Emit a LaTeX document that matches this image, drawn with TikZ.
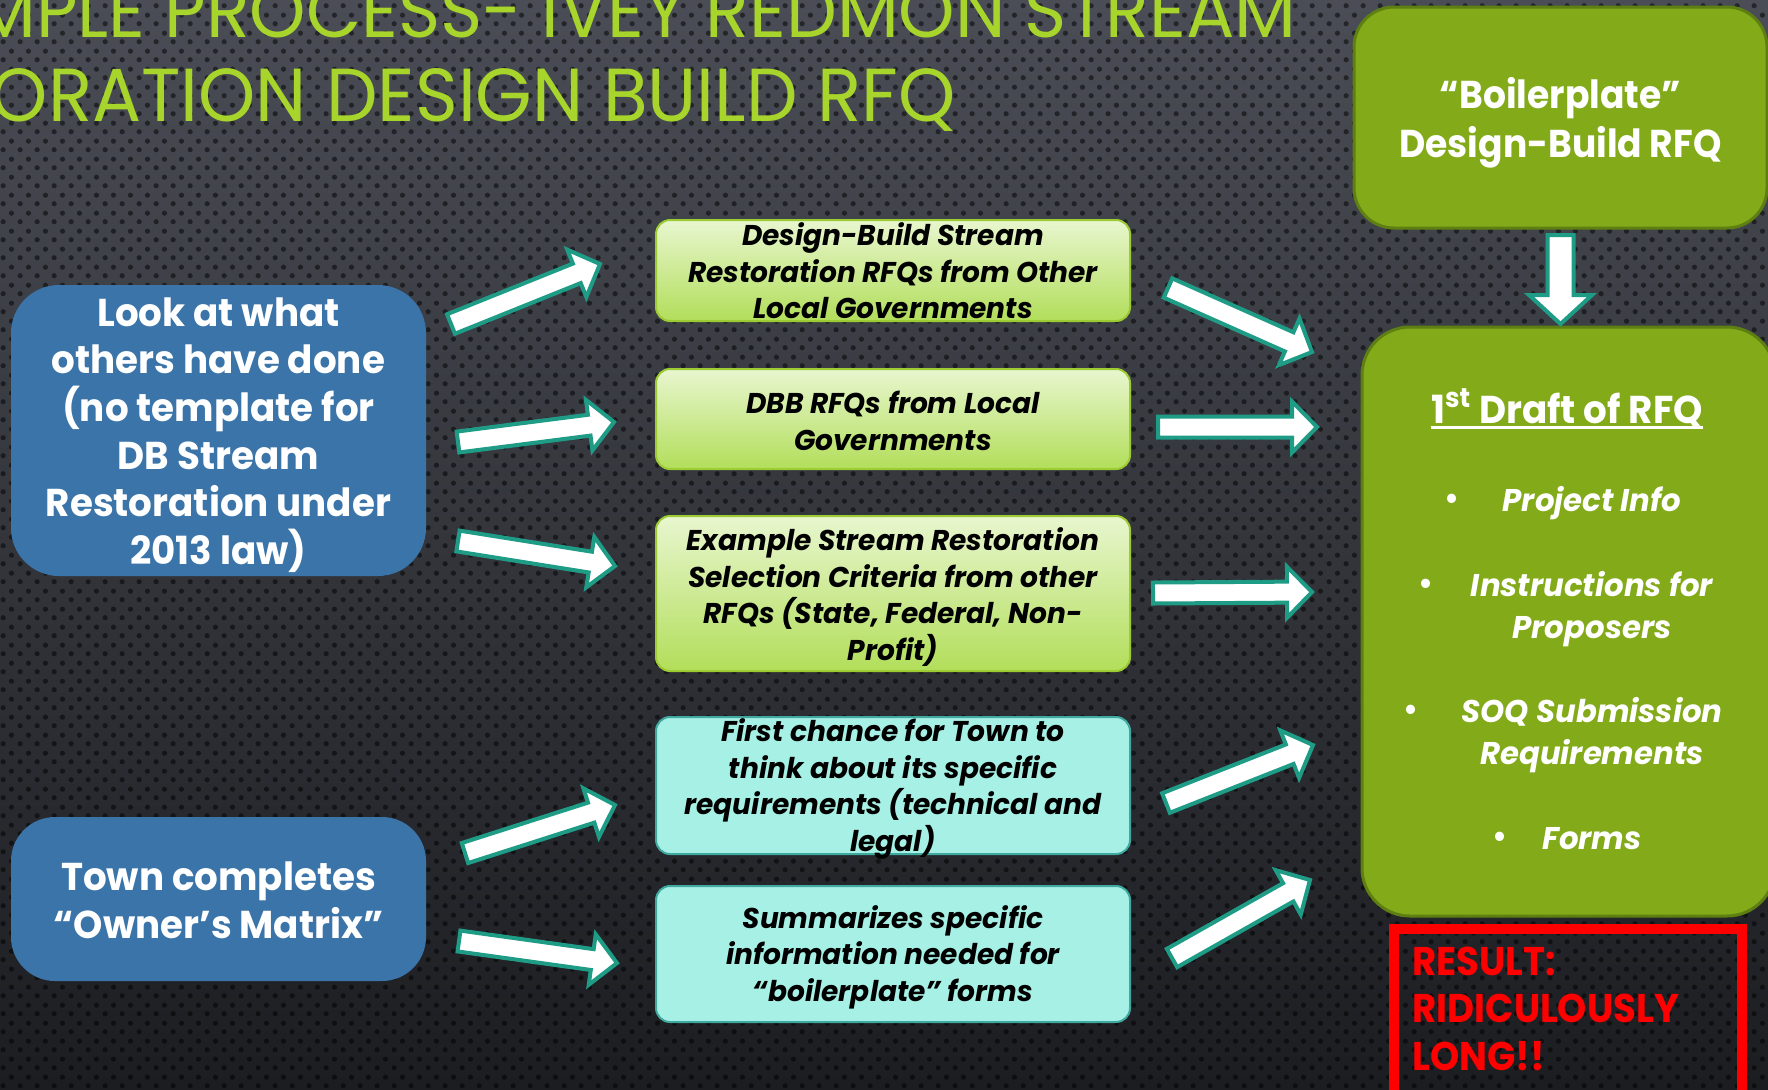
\documentclass[tikz,border=0pt]{standalone}
\usepackage{fontspec}
\usepackage{graphicx}
\usetikzlibrary{calc,patterns}
\setmainfont{Poppins}[FakeStretch=0.96]
\newfontfamily\narrowfont{Poppins}[FakeStretch=0.93]
\newfontfamily\widefont{Poppins}[FakeStretch=0.98]
\newfontfamily\titlefont{Poppins}

\definecolor{bgtop}{HTML}{4A4D55}
\definecolor{bgmid}{HTML}{33363C}
\definecolor{bgbot}{HTML}{1C1D21}
\definecolor{titlegreen}{HTML}{A8D52B}
\definecolor{boxblue}{HTML}{3A74A9}
\definecolor{olive}{HTML}{82AA19}
\definecolor{oliveedge}{HTML}{5E7F12}
\definecolor{lgtop}{HTML}{E8F6CF}
\definecolor{lgbot}{HTML}{B2DE5A}
\definecolor{lgedge}{HTML}{9CCC32}
\definecolor{cyanfill}{HTML}{A6F0E6}
\definecolor{cyanedge}{HTML}{3FA9A0}
\definecolor{arrowteal}{HTML}{1F9C86}
\definecolor{resultred}{HTML}{FF0000}

% perforated-metal dot grid
\pgfdeclarepatternformonly{perfdots}{\pgfqpoint{0pt}{0pt}}{\pgfqpoint{8.65pt}{9pt}}{\pgfqpoint{8.65pt}{9pt}}{%
  \pgfpathcircle{\pgfqpoint{2.16pt}{2.25pt}}{1.35pt}%
  \pgfpathcircle{\pgfqpoint{6.49pt}{6.75pt}}{1.35pt}%
  \pgfusepath{fill}}

% thick underline for the draft heading
\newcommand{\thickul}[1]{\setbox0\hbox{#1}\rlap{\raisebox{-3pt}{\rule{\wd0}{1.4pt}}}\box0}

% block arrow from tail #1 to tip #2
\newcommand{\blockarrow}[2]{%
  \draw[barrow] ($(#1)!5.25pt!90:(#2)$) -- ($(#2)!13.56pt!-22.78:(#1)$)
    -- ($(#2)!17.86pt!-45.56:(#1)$) -- (#2)
    -- ($(#2)!17.86pt!45.56:(#1)$) -- ($(#2)!13.56pt!22.78:(#1)$)
    -- ($(#1)!5.25pt!-90:(#2)$) -- cycle;}
% wider block arrow
\newcommand{\widearrow}[2]{%
  \draw[barrow] ($(#1)!6.5pt!90:(#2)$) -- ($(#2)!15.89pt!-24.15:(#1)$)
    -- ($(#2)!21.41pt!-47.36:(#1)$) -- (#2)
    -- ($(#2)!21.41pt!47.36:(#1)$) -- ($(#2)!15.89pt!24.15:(#1)$)
    -- ($(#1)!6.5pt!-90:(#2)$) -- cycle;}

\begin{document}
\begin{tikzpicture}[x=0.5pt,y=-0.5pt,
  barrow/.style={draw=arrowteal, fill=white, line width=2pt, line join=miter},
  bluebox/.style={fill=boxblue, rounded corners=24pt, minimum width=207.5pt, inner sep=0},
  greenbox/.style={draw=lgedge, line width=1pt, top color=lgtop, bottom color=lgbot,
    rounded corners=7pt, minimum width=237pt, inner sep=0},
  cyanbox/.style={draw=cyanedge, line width=1pt, fill=cyanfill,
    rounded corners=7pt, minimum width=237pt, inner sep=0},
  olivebox/.style={fill=olive, draw=oliveedge, line width=1.5pt, rounded corners=20pt,
    minimum width=206.5pt, inner sep=0},
  bigwhite/.style={text=white, inner sep=0, align=center,
    font=\fontsize{19.4pt}{23.8pt}\selectfont\bfseries},
  midtext/.style={text=black, inner sep=0, align=center,
    font=\widefont\fontsize{14.3pt}{18.3pt}\selectfont\bfseries\itshape},
  itemtext/.style={text=white, inner sep=0, align=center,
    font=\widefont\fontsize{15.7pt}{21pt}\selectfont\bfseries\itshape},
  bulletdot/.style={text=white, inner sep=0, anchor=base, font=\fontsize{19pt}{21pt}\selectfont},
  titletext/.style={text=titlegreen, inner sep=0, anchor=base east}]

\useasboundingbox (0,0) rectangle (1768,1089);
\clip (0,0) rectangle (1768,1089);

% background
\shade[top color=bgtop, middle color=bgmid, bottom color=bgbot] (0,0) rectangle (1768,1089);
\fill[pattern=perfdots, pattern color=black, fill opacity=0.5] (0,0) rectangle (1768,1089);

% heading
\node[titletext] (title1) at (1297,37) {\resizebox{661pt}{26.5pt}{\titlefont MPLE PROCESS- IVEY REDMON STREAM}};
\node[titletext] (title2) at (956,121) {\resizebox{502pt}{26.5pt}{\titlefont TORATION DESIGN BUILD RFQ}};

% left column
\node[bluebox, minimum height=145.5pt] (look) at (218.5,430.5) {};
\node[bigwhite] (looktxt) at (218.5,435) {Look at what\\others have done\\(no template for\\DB Stream\\Restoration under\\2013 law)};
\node[bluebox, minimum height=82pt, rounded corners=22pt] (town) at (218.5,899) {};
\node[bigwhite] (towntxt) at (218.5,900.5) {Town completes\\“Owner’s Matrix”};

% middle column
\node[greenbox, minimum height=50.5pt] (srcA) at (893,270.5) {};
\node[midtext] (srcAtxt) at (893,271) {Design-Build Stream\\Restoration RFQs from Other\\Local Governments};
\node[greenbox, minimum height=50pt] (srcB) at (893,419) {};
\node[midtext] (srcBtxt) at (893,420.6) {DBB RFQs from Local\\Governments};
\node[greenbox, minimum height=77.5pt] (srcC) at (893,593.5) {};
\node[midtext] (srcCtxt) at (893,597) {Example Stream Restoration\\Selection Criteria from other\\RFQs (State, Federal, Non-\\Profit)};
\node[cyanbox, minimum height=68.5pt] (srcD) at (893,785.5) {};
\node[midtext] (srcDtxt) at (893,789) {First chance for Town to\\think about its specific\\requirements (technical and\\legal)};
\node[cyanbox, minimum height=68pt] (srcE) at (893,954) {};
\node[midtext] (srcEtxt) at (893,957) {Summarizes specific\\information needed for\\“boilerplate” forms};

% right column
\node[olivebox, minimum height=110.5pt] (boiler) at (1560.5,117.5) {};
\node[bigwhite, font=\narrowfont\fontsize{19.4pt}{24.5pt}\selectfont\bfseries] (boilertxt) at (1560.5,122.8) {“Boilerplate”\\Design-Build RFQ};
\node[olivebox, minimum height=294.5pt, rounded corners=24pt] (draft) at (1568.5,621.5) {};
\node[bigwhite, anchor=base] (drafthead) at (1567,423) {\thickul{1\textsuperscript{st} Draft of RFQ}};
\node[bulletdot] (b1) at (1452,511) {•};
\node[itemtext, anchor=base] (i1) at (1592,511) {Project Info};
\node[bulletdot] (b2) at (1426,596) {•};
\node[itemtext] (i2) at (1592,609) {Instructions for\\Proposers};
\node[bulletdot] (b3) at (1411,722.5) {•};
\node[itemtext] (i3) at (1592,735) {SOQ Submission\\Requirements};
\node[bulletdot] (b4) at (1500,849) {•};
\node[itemtext, anchor=base] (i4) at (1592,849) {Forms};

% result box
\node[draw=resultred, line width=5pt, minimum width=174pt, minimum height=90.5pt, inner sep=0] (result) at (1568,1019.5) {};
\node[text=resultred, inner sep=0, align=left, anchor=west,
  font=\narrowfont\fontsize{20pt}{23.75pt}\selectfont\bfseries] (resulttxt) at (1412,1008.5) {RESULT:\\RIDICULOUSLY\\LONG!!};

% arrow end points
\coordinate (a1s) at (451,324);   \coordinate (a1e) at (600,264);
\coordinate (a2s) at (458,442);   \coordinate (a2e) at (614,422);
\coordinate (a3s) at (458,541);   \coordinate (a3e) at (615,566);
\coordinate (a4s) at (465,853);   \coordinate (a4e) at (615,805);
\coordinate (a5s) at (459,941);   \coordinate (a5e) at (617,963);
\coordinate (a6s) at (1168,288);  \coordinate (a6e) at (1312,352);
\coordinate (a7s) at (1158,427);  \coordinate (a7e) at (1317,427);
\coordinate (a8s) at (1153,593);  \coordinate (a8e) at (1312,592);
\coordinate (a9s) at (1166,803);  \coordinate (a9e) at (1313,745);
\coordinate (a10s) at (1172,958); \coordinate (a10e) at (1310,880);
\coordinate (dns) at (boiler.south |- 0,235); \coordinate (dne) at (boiler.south |- 0,324);

\blockarrow{a1s}{a1e}
\blockarrow{a2s}{a2e}
\blockarrow{a3s}{a3e}
\blockarrow{a4s}{a4e}
\blockarrow{a5s}{a5e}
\blockarrow{a6s}{a6e}
\blockarrow{a7s}{a7e}
\blockarrow{a8s}{a8e}
\blockarrow{a9s}{a9e}
\blockarrow{a10s}{a10e}
\widearrow{dns}{dne}
\end{tikzpicture}
\end{document}
